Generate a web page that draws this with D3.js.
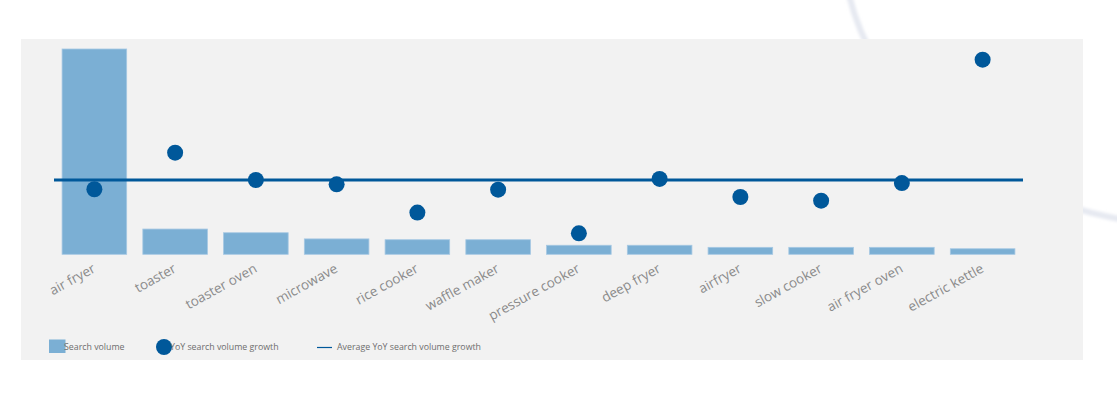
<!DOCTYPE html>
<html>
<head>
<meta charset="utf-8">
<script src="https://cdn.jsdelivr.net/npm/d3@7"></script>
<style>
  html, body { margin: 0; padding: 0; background: #ffffff; }
  svg { display: block; }
</style>
</head>
<body>
<svg id="chart" width="1117" height="394"></svg>
<script>
const categories = ["air fryer", "toaster", "toaster oven", "microwave", "rice cooker", "waffle maker",
  "pressure cooker", "deep fryer", "airfryer", "slow cooker", "air fryer oven", "electric kettle"];
const searchVolume = [100, 12.3, 10.5, 7.5, 7.1, 7.1, 4.4, 4.4, 3.4, 3.4, 3.4, 2.7];
const yoyGrowth = [31.7, 49.5, 36.2, 34.1, 20.3, 31.5, 10.2, 36.7, 27.9, 26.1, 34.7, 94.8];
const legendLabels = ["Search volume", "YoY search volume growth", "Average YoY search volume growth"];

const barColor = "#7bafd4";
const dotColor = "#00589a";
const labelFont = "'Open Sans', sans-serif";

const svg = d3.select("#chart");

// faint decorative swoosh in the background
const defs = svg.append("defs");
const f = defs.append("filter").attr("id", "blur");
f.append("feGaussianBlur").attr("stdDeviation", 1.5);
svg.append("path")
  .attr("d", "M849,-5 C872,90 960,190 1125,220")
  .attr("fill", "none")
  .attr("stroke", "#e6e9f1")
  .attr("stroke-width", 6)
  .attr("filter", "url(#blur)");

// panel
svg.append("rect").attr("x", 21).attr("y", 39).attr("width", 1062).attr("height", 321).attr("fill", "#f2f2f2");

const x = d3.scaleBand().domain(categories).range([54, 1023]).paddingInner(0.2).paddingOuter(0.1);
const yBar = d3.scaleLinear().domain([0, 100]).range([254.3, 49]);
const yGrowth = d3.scaleLinear().domain([0, 100]).range([254.3, 49]);

const data = categories.map((c, i) => ({ c, v: searchVolume[i], g: yoyGrowth[i] }));

svg.append("g").selectAll("rect").data(data).join("rect")
  .attr("x", d => x(d.c))
  .attr("y", d => yBar(d.v))
  .attr("width", x.bandwidth())
  .attr("height", d => yBar(0) - yBar(d.v))
  .attr("fill", barColor)
  .attr("stroke", "#a6c8e3")
  .attr("stroke-width", 0.8);

// average line
const avg = d3.mean(yoyGrowth);
svg.append("line")
  .attr("x1", x.range()[0]).attr("x2", x.range()[1])
  .attr("y1", yGrowth(avg)).attr("y2", yGrowth(avg))
  .attr("stroke", dotColor).attr("stroke-width", 3);

svg.append("g").selectAll("circle").data(data).join("circle")
  .attr("cx", d => x(d.c) + x.bandwidth() / 2)
  .attr("cy", d => yGrowth(d.g))
  .attr("r", 8)
  .attr("fill", dotColor);

// category labels
const xAxis = svg.append("g").attr("transform", `translate(0,${yBar(0)})`)
  .call(d3.axisBottom(x).tickSize(0).tickPadding(0));
xAxis.select(".domain").remove();
xAxis.selectAll("text")
  .attr("font-family", labelFont)
  .attr("font-size", 13.5)
  .attr("fill", "#8a8a8a")
  .attr("text-anchor", "end")
  .attr("dy", null)
  .attr("y", 0)
  .attr("transform", "translate(2,17) rotate(-29)");

// legend
const lg = svg.append("g").attr("font-family", labelFont).attr("font-size", 8.8).attr("fill", "#6e6e6e");
lg.append("rect").attr("x", 49).attr("y", 339.5).attr("width", 16.5).attr("height", 13.5).attr("fill", barColor);
lg.append("text").attr("x", 64).attr("y", 350).text(legendLabels[0]);
lg.append("circle").attr("cx", 164).attr("cy", 347).attr("r", 8).attr("fill", dotColor);
lg.append("text").attr("x", 170).attr("y", 350).text(legendLabels[1]);
lg.append("line").attr("x1", 317).attr("x2", 332).attr("y1", 347.5).attr("y2", 347.5).attr("stroke", dotColor).attr("stroke-width", 1.2);
lg.append("text").attr("x", 337).attr("y", 350).text(legendLabels[2]);
</script>
</body>
</html>
